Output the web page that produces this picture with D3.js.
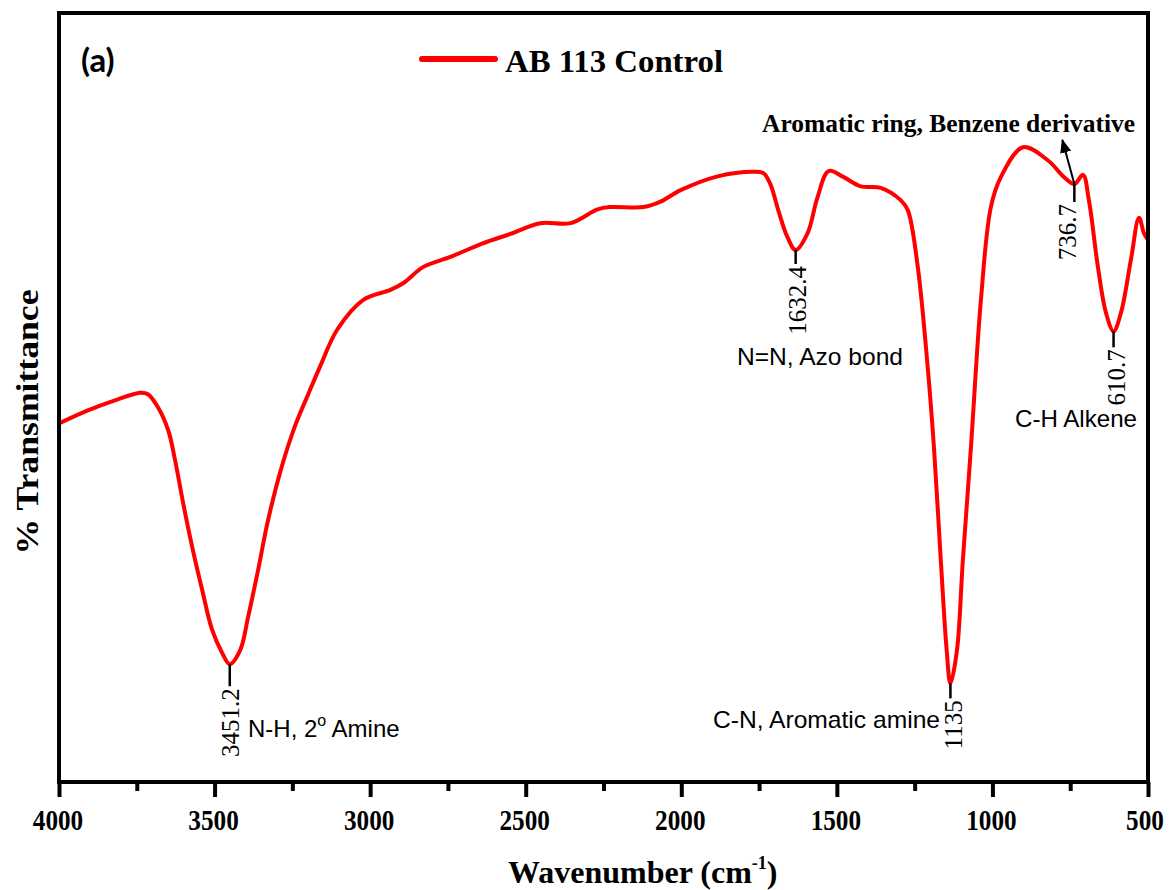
<!DOCTYPE html>
<html>
<head>
<meta charset="utf-8">
<script src="https://cdn.jsdelivr.net/npm/d3@7"></script>
<style>
  html, body { margin: 0; padding: 0; background: #fff; }
  svg { display: block; }
</style>
</head>
<body>
<svg id="chart" width="1169" height="890"></svg>
<script>
// ---------------- DATA ----------------
const seriesName = "AB 113 Control";
const panelLabel = "(a)";
const wavenumbers = [
  4000, 3907, 3820, 3739, 3714, 3682, 3649, 3627, 3601, 3572,
  3540, 3508, 3476, 3451.2, 3418, 3392, 3360, 3328, 3283, 3241,
  3199, 3160, 3106, 3022, 2935, 2893, 2829, 2742, 2636, 2549,
  2453, 2356, 2269, 2228, 2121, 2067, 2002, 1883, 1768, 1735,
  1713, 1687, 1658, 1632.4, 1594, 1562, 1526, 1478, 1423, 1359,
  1295, 1272, 1240, 1208, 1188, 1166, 1147, 1135, 1114, 1095,
  1069, 1037, 1005, 973, 902, 822, 770, 736.7, 709, 690,
  661, 635, 610.7, 587, 555, 529, 513, 500
];
const transmittance = [
  46.5, 48.2, 49.5, 50.5, 50.3, 48.6, 45.6, 41.7, 36.1, 30.4,
  24.8, 19.6, 16.6, 15.1, 16.9, 21.3, 27.4, 33.9, 41.0, 46.2,
  50.3, 54.0, 58.7, 62.6, 63.9, 64.8, 66.9, 68.2, 70.0, 71.2,
  72.6, 72.6, 74.4, 74.7, 74.7, 75.4, 76.9, 78.7, 79.3, 79.1,
  77.6, 74.1, 70.7, 69.1, 71.3, 76.0, 79.4, 78.6, 77.4, 77.2,
  75.6, 74.3, 66.9, 53.8, 43.4, 28.7, 16.9, 12.6, 16.9, 28.7,
  43.4, 62.6, 74.7, 78.6, 82.5, 80.8, 78.6, 77.7, 78.9, 75.6,
  66.9, 60.9, 58.5, 60.9, 67.8, 73.3, 71.3, 70.4
];
const xTicks = [4000, 3500, 3000, 2500, 2000, 1500, 1000, 500];
const xMinorTicks = [3750, 3250, 2750, 2250, 1750, 1250, 750];
const peakWavenumbers = [3451.2, 1632.4, 1135, 736.7, 610.7];
const peakLabels = ["3451.2", "1632.4", "1135", "736.7", "610.7"];
const bandAssignments = ["N-H, 2|o| Amine", "N=N, Azo bond", "C-N, Aromatic amine",
                         "Aromatic ring, Benzene derivative", "C-H Alkene"];

// ---------------- LAYOUT ----------------
const svg = d3.select("#chart");
const L = 59, R = 1148, T = 13, B = 782;
const x = d3.scaleLinear().domain([4000, 500]).range([L, R]);
const y = d3.scaleLinear().domain([0, 100]).range([780, 13]);
const serif = "'Liberation Serif', 'Times New Roman', serif";
const sans = "'Liberation Sans', Arial, sans-serif";

const defs = svg.append("defs");
defs.append("clipPath").attr("id", "plotclip")
  .append("rect").attr("x", L).attr("y", T).attr("width", R - L).attr("height", B - T);

const data = wavenumbers.map((w, i) => ({ w, t: transmittance[i] }));

// curve
const line = d3.line().x(d => x(d.w)).y(d => y(d.t)).curve(d3.curveCatmullRom.alpha(0.5));
svg.append("path").datum(data)
  .attr("clip-path", "url(#plotclip)")
  .attr("d", line)
  .attr("fill", "none").attr("stroke", "#ff0000").attr("stroke-width", 4)
  .attr("stroke-linejoin", "round").attr("stroke-linecap", "round");

// frame
svg.append("rect").attr("x", L).attr("y", T).attr("width", R - L).attr("height", B - T)
  .attr("fill", "none").attr("stroke", "#000").attr("stroke-width", 4);

// x axis ticks
const xAxis = d3.axisBottom(x).tickValues(xTicks).tickSize(15).tickFormat("");
const gx = svg.append("g").attr("transform", `translate(0,${B})`).call(xAxis);
gx.select(".domain").remove();
gx.selectAll(".tick line").attr("stroke", "#000").attr("stroke-width", 4);
const xAxisMinor = d3.axisBottom(x).tickValues(xMinorTicks).tickSize(9).tickFormat("");
const gxm = svg.append("g").attr("transform", `translate(0,${B})`).call(xAxisMinor);
gxm.select(".domain").remove();
gxm.selectAll(".tick line").attr("stroke", "#000").attr("stroke-width", 4);

// tick labels
svg.append("g").selectAll("text").data(xTicks).join("text")
  .attr("x", d => d === 500 ? x(d) - 3 : x(d) - 1).attr("y", 830)
  .attr("text-anchor", "middle")
  .attr("font-family", serif).attr("font-weight", "bold").attr("font-size", 29)
  .attr("textLength", d => String(d).length * 12.6).attr("lengthAdjust", "spacingAndGlyphs")
  .text(d => d);

// axis titles
const xt = svg.append("text").attr("x", 508).attr("y", 883)
  .attr("font-family", serif).attr("font-weight", "bold").attr("font-size", 32);
xt.append("tspan").text("Wavenumber (cm");
xt.append("tspan").attr("font-size", 18).attr("dy", -14).text("-1");
xt.append("tspan").attr("dy", 14).text(")");

svg.append("text")
  .attr("transform", "translate(27,422) rotate(-90)")
  .attr("text-anchor", "middle").attr("dy", "0.35em")
  .attr("font-family", serif).attr("font-weight", "bold").attr("font-size", 32)
  .attr("textLength", 265).attr("lengthAdjust", "spacingAndGlyphs")
  .text("% Transmittance");

// panel label
svg.append("text").attr("x", 81).attr("y", 72)
  .attr("font-family", "Lato, 'Open Sans', sans-serif").attr("font-weight", "bold").attr("font-size", 33)
  .text(panelLabel);

// legend
svg.append("line").attr("x1", 422).attr("x2", 495).attr("y1", 59).attr("y2", 59)
  .attr("stroke", "#ff0000").attr("stroke-width", 6).attr("stroke-linecap", "round");
svg.append("text").attr("x", 505).attr("y", 72)
  .attr("font-family", serif).attr("font-weight", "bold").attr("font-size", 32)
  .attr("textLength", 218).attr("lengthAdjust", "spacingAndGlyphs")
  .text(seriesName);

// peak markers
const tAt = w => data.find(d => d.w === w).t;
const markerLen = [22, 14, 15, 18, 16];
const labelDx = [0, 2, 3, -7, 3];
peakWavenumbers.forEach((w, i) => {
  const px = x(w), py = y(tAt(w));
  svg.append("line").attr("x1", px).attr("x2", px).attr("y1", py).attr("y2", py + markerLen[i])
    .attr("stroke", "#000").attr("stroke-width", 2.5);
  svg.append("text")
    .attr("transform", `translate(${px + labelDx[i]},${py + markerLen[i] + 2}) rotate(-90)`)
    .attr("text-anchor", "end").attr("dy", "0.35em")
    .attr("font-family", serif).attr("font-size", 25)
    .text(peakLabels[i]);
});

// arrow for aromatic ring
defs.append("marker").attr("id", "arrowhead").attr("viewBox", "0 0 10 10")
  .attr("refX", 9).attr("refY", 5)
  .attr("orient", "auto").attr("markerUnits", "userSpaceOnUse")
  .attr("markerWidth", 14).attr("markerHeight", 14)
  .append("path").attr("d", "M0,1 L10,5 L0,9 Z").attr("fill", "#000");
{
  const px = x(736.7), py = y(tAt(736.7));
  svg.append("line").attr("x1", px).attr("y1", py).attr("x2", px - 12).attr("y2", py - 44)
    .attr("stroke", "#000").attr("stroke-width", 2).attr("marker-end", "url(#arrowhead)");
}

// band assignment texts
function addSans(str, xx, yy, len) {
  const parts = str.split("|");
  const t = svg.append("text").attr("x", xx).attr("y", yy)
    .attr("font-family", sans).attr("font-size", 24);
  if (parts.length === 1) {
    t.text(str);
    if (len) t.attr("textLength", len).attr("lengthAdjust", "spacingAndGlyphs");
  } else {
    t.append("tspan").text(parts[0]);
    t.append("tspan").attr("font-size", 16).attr("dy", -11).text(parts[1]);
    t.append("tspan").attr("dy", 11).text(parts[2]);
  }
}
addSans(bandAssignments[0], 248, 737);
addSans(bandAssignments[1], 737, 365, 166);
addSans(bandAssignments[2], 713, 728, 227);
addSans(bandAssignments[4], 1015, 427, 122);
svg.append("text").attr("x", 762).attr("y", 132)
  .attr("font-family", serif).attr("font-weight", "bold").attr("font-size", 26)
  .attr("textLength", 373).attr("lengthAdjust", "spacingAndGlyphs")
  .text(bandAssignments[3]);
</script>
</body>
</html>
